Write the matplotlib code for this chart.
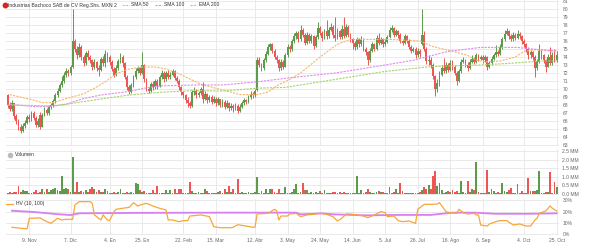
import numpy as np
import pandas as pd
import matplotlib
matplotlib.use('Agg')
import matplotlib.pyplot as plt
from matplotlib.lines import Line2D

plt.rcParams['font.family'] = ['Liberation Sans', 'DejaVu Sans']

# trading days (BMV holidays removed)
holidays = ['2020-11-16', '2020-12-25', '2021-01-01', '2021-02-01',
            '2021-04-01', '2021-04-02', '2021-09-16']
days = pd.bdate_range('2020-10-26', '2021-10-25')
days = days[~days.isin(pd.to_datetime(holidays))]

# daily OHLC (MXN)
opens = [69.2, 68.0, 67.5, 68.2, 66.6, 66.0, 65.2, 64.8, 65.4, 65.8,
         66.5, 66.2, 67.0, 66.4, 65.5, 66.8, 65.3, 66.8, 67.4, 67.0,
         67.8, 68.0, 68.5, 69.2, 69.8, 70.5, 71.0, 71.8, 72.3, 72.0,
         72.8, 76.0, 75.0, 74.2, 75.3, 74.0, 73.2, 74.5, 74.0, 73.6,
         72.8, 73.4, 72.6, 72.4, 73.8, 73.2, 74.4, 74.0, 73.4, 72.5,
         71.8, 72.6, 73.5, 74.0, 73.2, 71.5, 70.2, 69.6, 70.5, 71.5,
         72.3, 72.6, 72.0, 73.0, 71.2, 70.0, 69.8, 70.6, 70.2, 71.0,
         70.4, 71.5, 72.0, 71.2, 72.0, 71.5, 71.8, 72.3, 71.4, 71.0,
         70.2, 69.6, 69.2, 68.6, 68.2, 67.9, 69.6, 69.8, 69.2, 69.5,
         70.0, 68.8, 69.4, 68.6, 69.0, 68.4, 68.8, 68.2, 68.7, 68.0,
         68.4, 67.8, 68.3, 67.6, 67.9, 67.6, 67.9, 67.2, 67.8, 68.3,
         68.6, 68.4, 69.0, 69.4, 69.2, 69.9, 73.6, 73.0, 72.6, 73.6,
         74.4, 75.2, 75.6, 74.8, 74.0, 73.6, 72.6, 73.4, 72.8, 74.2,
         75.2, 75.0, 76.0, 76.6, 77.0, 76.2, 77.4, 76.8, 75.8, 76.8,
         76.0, 76.6, 75.4, 76.5, 77.6, 77.0, 76.4, 77.2, 76.6, 77.4,
         77.8, 76.8, 76.4, 77.2, 76.5, 77.5, 76.6, 77.8, 76.8, 76.2,
         75.8, 75.2, 76.2, 75.6, 76.3, 75.0, 74.6, 73.6, 74.8, 75.6,
         75.0, 76.4, 75.8, 76.2, 75.6, 75.9, 76.5, 77.4, 77.6, 76.8,
         77.2, 76.8, 76.0, 75.8, 76.6, 76.0, 75.3, 74.8, 75.0, 74.2,
         74.8, 75.6, 76.8, 75.0, 73.5, 73.6, 73.0, 71.6, 70.0, 70.8,
         71.8, 72.6, 72.2, 73.0, 72.4, 73.2, 72.8, 72.0, 71.0, 72.2,
         73.4, 73.6, 73.0, 72.6, 73.4, 73.8, 73.4, 74.2, 73.8, 74.0,
         73.6, 74.0, 72.8, 73.2, 73.8, 74.2, 74.6, 74.4, 75.2, 76.2,
         76.9, 77.2, 76.6, 76.2, 76.8, 76.4, 76.9, 76.6, 76.0, 75.6,
         75.0, 74.2, 74.6, 74.0, 72.6, 73.4, 74.8, 74.2, 73.6, 72.8,
         74.0, 73.2, 74.2, 73.6]
closes = [68.0, 67.5, 68.2, 66.6, 66.0, 65.2, 64.8, 65.4, 65.8, 66.5,
          66.2, 67.0, 66.4, 65.5, 66.0, 65.3, 66.8, 67.4, 67.0, 67.8,
          68.0, 68.5, 69.2, 69.8, 70.5, 71.0, 71.8, 72.3, 72.0, 72.8,
          76.0, 75.0, 74.2, 75.3, 74.0, 73.2, 74.5, 74.0, 73.6, 72.8,
          73.4, 72.6, 72.4, 73.8, 73.2, 74.4, 74.0, 73.4, 72.5, 71.8,
          72.6, 73.5, 74.0, 73.2, 71.5, 70.2, 69.6, 70.5, 71.5, 72.3,
          72.6, 72.0, 73.0, 71.2, 70.0, 69.8, 70.6, 70.2, 71.0, 70.4,
          71.5, 72.0, 71.2, 72.0, 71.5, 71.8, 72.3, 71.4, 71.0, 70.2,
          69.6, 69.2, 68.6, 68.2, 67.9, 69.6, 69.8, 69.2, 69.5, 70.0,
          68.8, 69.4, 68.6, 69.0, 68.4, 68.8, 68.2, 68.7, 68.0, 68.4,
          67.8, 68.3, 67.6, 67.9, 67.6, 67.9, 67.2, 67.8, 68.3, 68.6,
          68.4, 69.0, 69.4, 69.2, 69.8, 73.6, 73.0, 72.6, 73.6, 74.4,
          75.2, 75.6, 74.8, 74.0, 73.6, 72.6, 73.4, 72.8, 74.2, 75.2,
          75.0, 76.0, 76.6, 77.0, 76.2, 77.4, 76.8, 75.8, 76.8, 76.0,
          76.6, 75.4, 76.5, 77.6, 77.0, 76.4, 77.2, 76.6, 77.4, 77.8,
          76.8, 76.4, 77.2, 76.5, 77.5, 76.6, 77.8, 76.8, 76.2, 75.8,
          75.2, 76.2, 75.6, 76.3, 75.0, 74.6, 73.6, 74.8, 75.6, 75.0,
          76.4, 75.8, 76.2, 75.6, 75.9, 76.5, 77.4, 77.6, 76.8, 77.2,
          76.8, 76.0, 75.8, 76.6, 76.0, 75.3, 74.8, 75.0, 74.2, 74.8,
          74.4, 76.8, 75.0, 73.5, 73.6, 73.0, 71.6, 70.0, 70.8, 71.8,
          72.6, 72.2, 73.0, 72.4, 73.2, 72.8, 72.0, 71.0, 72.2, 73.4,
          73.6, 73.0, 72.6, 73.4, 73.8, 73.4, 74.2, 73.8, 74.0, 73.6,
          74.0, 72.8, 73.2, 73.8, 74.2, 74.6, 74.4, 75.2, 76.2, 76.9,
          77.2, 76.6, 76.2, 76.8, 76.4, 76.9, 76.6, 76.0, 75.6, 75.0,
          74.2, 74.6, 74.0, 72.6, 73.4, 74.8, 74.2, 73.6, 72.8, 74.0,
          73.2, 74.2, 73.6, 74.2]
highs = [69.4, 68.4, 68.6, 68.3, 66.9, 66.2, 65.6, 65.7, 66.1, 66.8,
         66.9, 67.2, 67.2, 66.6, 66.4, 67.1, 67.0, 67.7, 67.6, 68.0,
         68.3, 68.8, 69.5, 70.1, 70.8, 71.6, 72.1, 72.6, 72.5, 73.0,
         80.0, 76.2, 75.4, 75.7, 75.5, 74.3, 74.8, 74.9, 74.2, 73.8,
         73.7, 73.5, 73.0, 74.0, 74.1, 74.9, 74.6, 74.3, 73.6, 72.8,
         73.0, 73.8, 74.5, 74.2, 73.4, 71.8, 70.5, 70.8, 71.8, 72.6,
         72.9, 72.8, 74.6, 73.1, 71.4, 70.3, 70.9, 71.0, 71.3, 71.2,
         71.8, 72.4, 72.2, 72.3, 72.4, 72.1, 72.5, 72.4, 71.6, 71.2,
         70.4, 69.8, 69.4, 69.0, 68.5, 69.9, 70.2, 70.0, 69.8, 70.3,
         70.9, 69.7, 69.5, 69.3, 69.2, 69.1, 69.0, 69.0, 68.8, 68.7,
         68.6, 68.6, 68.4, 68.2, 68.1, 68.2, 68.1, 68.1, 68.5, 68.9,
         68.8, 69.3, 69.7, 69.6, 70.0, 74.0, 74.0, 73.3, 73.9, 74.8,
         75.6, 75.8, 75.8, 75.0, 74.3, 73.8, 73.7, 73.6, 74.5, 75.6,
         75.5, 76.3, 77.0, 77.3, 77.2, 78.0, 77.6, 77.0, 77.1, 77.0,
         76.9, 76.8, 76.8, 78.4, 77.9, 77.2, 77.5, 78.6, 77.8, 78.2,
         78.0, 79.0, 77.6, 77.4, 78.0, 79.0, 78.1, 78.0, 77.0, 76.4,
         76.0, 76.5, 76.4, 76.6, 76.4, 75.2, 74.8, 75.1, 75.9, 75.8,
         76.7, 77.0, 76.5, 76.4, 76.2, 76.8, 77.7, 78.0, 77.8, 77.5,
         77.4, 77.0, 76.3, 76.9, 76.8, 76.2, 75.5, 75.3, 75.2, 75.1,
         75.0, 80.0, 77.3, 75.3, 74.2, 74.0, 73.2, 71.8, 71.2, 72.2,
         73.0, 73.9, 73.4, 73.3, 73.6, 73.6, 73.0, 72.2, 72.5, 73.8,
         74.0, 73.8, 73.4, 73.7, 74.2, 74.0, 74.5, 74.4, 74.3, 74.2,
         74.3, 74.1, 73.5, 74.1, 74.5, 75.5, 74.9, 75.6, 76.5, 77.4,
         77.6, 77.4, 76.9, 77.1, 77.0, 77.4, 77.1, 76.8, 76.2, 75.8,
         75.2, 75.0, 74.8, 74.2, 73.8, 75.6, 75.0, 74.4, 73.8, 74.4,
         75.2, 74.6, 75.0, 74.8]
lows = [67.6, 67.2, 67.3, 66.3, 65.6, 64.9, 64.5, 64.6, 65.1, 65.6,
        65.9, 66.0, 66.1, 65.2, 65.3, 65.0, 65.2, 66.6, 66.7, 66.8,
        67.5, 67.8, 68.3, 69.0, 69.6, 70.2, 70.8, 71.5, 71.6, 71.8,
        72.6, 74.6, 73.8, 74.0, 73.6, 72.9, 73.0, 73.6, 73.2, 72.4,
        72.5, 72.2, 71.6, 72.2, 72.9, 72.8, 73.4, 73.0, 72.2, 71.5,
        71.6, 72.4, 73.2, 72.8, 71.2, 69.9, 69.4, 69.5, 70.3, 71.3,
        72.0, 71.7, 71.9, 70.9, 69.7, 69.5, 69.6, 69.9, 70.0, 70.0,
        70.3, 71.3, 70.9, 71.0, 71.2, 71.2, 71.6, 71.1, 70.7, 69.9,
        69.3, 68.9, 68.3, 67.8, 67.6, 67.8, 69.3, 68.9, 69.0, 69.3,
        68.2, 68.6, 68.3, 68.4, 68.1, 68.2, 67.9, 68.0, 67.7, 67.8,
        67.5, 67.6, 67.3, 67.4, 67.1, 67.4, 67.0, 67.1, 67.6, 68.0,
        68.1, 68.3, 68.8, 68.9, 69.0, 69.8, 72.7, 72.3, 72.4, 73.4,
        74.2, 74.9, 74.5, 73.7, 73.3, 72.3, 72.4, 72.5, 72.7, 74.0,
        74.6, 74.8, 75.8, 76.3, 75.9, 76.0, 76.5, 75.5, 75.6, 75.7,
        75.8, 75.0, 75.3, 76.3, 76.7, 76.0, 76.2, 76.3, 76.4, 77.2,
        76.4, 76.0, 76.2, 76.2, 76.3, 76.4, 76.5, 76.5, 75.9, 75.0,
        74.9, 75.0, 75.3, 75.4, 74.8, 74.3, 73.0, 73.4, 74.6, 74.7,
        74.9, 75.5, 75.6, 75.3, 75.4, 75.7, 76.4, 77.1, 76.5, 76.6,
        76.4, 75.7, 75.5, 75.6, 75.7, 75.0, 74.5, 74.6, 73.9, 74.0,
        74.0, 75.5, 74.8, 73.1, 73.0, 72.6, 71.2, 69.1, 69.6, 70.4,
        71.6, 72.0, 72.0, 72.1, 72.2, 72.4, 71.7, 70.5, 70.9, 72.0,
        73.2, 72.7, 72.3, 72.5, 73.2, 73.1, 73.2, 73.5, 73.6, 73.3,
        73.4, 72.4, 72.6, 73.0, 73.6, 74.0, 74.1, 74.3, 75.0, 76.0,
        76.7, 76.3, 76.0, 76.0, 76.1, 76.2, 76.3, 75.6, 75.2, 74.6,
        73.8, 73.9, 73.6, 71.5, 72.4, 73.2, 73.8, 73.2, 72.1, 72.7,
        73.0, 73.0, 73.4, 73.4]

# volume (millions of shares)
volume = [0.05, 0.08, 0.06, 0.10, 0.08, 0.45, 0.12, 0.20, 0.15, 0.15,
          0.06, 0.05, 0.08, 0.20, 0.06, 0.10, 0.25, 0.10, 0.30, 0.12,
          0.20, 0.30, 0.35, 0.20, 0.15, 1.05, 0.30, 0.35, 0.30, 0.10,
          2.15, 0.12, 0.70, 0.10, 0.15, 0.10, 0.20, 0.12, 0.25, 0.40,
          0.30, 0.10, 0.20, 0.08, 0.10, 0.30, 0.15, 0.05, 0.06, 0.10,
          0.05, 0.08, 0.30, 0.05, 0.06, 0.10, 0.05, 0.08, 0.06, 0.65,
          0.55, 0.20, 0.08, 0.15, 0.05, 0.06, 0.04, 0.20, 0.06, 0.45,
          0.05, 0.06, 0.04, 0.20, 0.05, 0.20, 0.06, 0.30, 0.05, 0.30,
          0.25, 0.05, 0.06, 0.04, 0.70, 0.15, 0.05, 0.06, 0.10, 0.04,
          0.05, 0.25, 0.15, 0.05, 0.06, 0.04, 0.05, 0.10, 0.15, 0.05,
          0.30, 0.08, 0.45, 0.08, 0.30, 0.06, 0.85, 0.05, 0.10, 0.04,
          0.05, 0.10, 0.04, 0.05, 0.10, 1.00, 0.06, 0.15, 0.05, 0.25,
          0.06, 0.25, 0.25, 0.08, 0.05, 0.30, 0.06, 0.05, 0.40, 0.06,
          0.05, 0.08, 0.30, 0.55, 0.06, 0.10, 0.60, 0.20, 0.20, 0.05,
          0.08, 0.06, 0.10, 0.05, 0.15, 0.04, 0.20, 0.05, 0.05, 0.03,
          0.08, 0.10, 0.06, 0.08, 0.05, 0.10, 0.04, 0.03, 0.05, 0.03,
          0.06, 1.05, 0.05, 0.20, 0.06, 0.10, 0.30, 0.10, 0.04, 0.05,
          0.10, 0.15, 0.12, 0.10, 0.04, 0.05, 0.40, 0.06, 0.10, 0.25,
          0.05, 0.60, 0.15, 0.04, 0.03, 0.05, 0.04, 0.05, 0.06, 0.05,
          0.10, 0.20, 0.40, 0.30, 0.50, 0.30, 1.05, 1.30, 0.45, 0.60,
          0.20, 0.05, 0.10, 0.15, 0.10, 0.20, 0.12, 0.15, 0.06, 0.75,
          0.10, 0.05, 0.75, 0.08, 0.30, 0.20, 1.85, 0.10, 0.05, 0.04,
          0.06, 1.40, 0.08, 0.25, 0.15, 0.05, 0.10, 0.05, 0.60, 0.15,
          0.10, 0.20, 0.35, 0.05, 0.06, 0.55, 0.04, 0.15, 0.05, 0.06,
          0.90, 0.15, 0.15, 0.15, 0.20, 1.30, 0.05, 0.06, 0.10, 0.08,
          1.25, 0.06, 0.70, 0.40]

# moving averages (day index, value)
sma50_idx = [1, 12, 16, 21, 27, 35, 40, 45, 50, 56, 62, 68, 73, 79, 86, 90,
             99, 107, 115, 120, 124, 130, 135, 144, 152, 158, 176, 190, 196,
             204, 212, 216, 221, 227, 234, 238, 243, 248, 253]
sma50_val = [69.3, 68.6, 68.3, 68.3, 68.8, 69.4, 70.1, 70.9, 71.9, 72.5,
             72.75, 72.75, 72.5, 71.9, 71.0, 70.5, 69.9, 69.3, 69.3, 69.6,
             70.4, 71.2, 72.0, 74.0, 75.6, 76.2, 76.2, 76.0, 75.3, 74.8,
             74.2, 73.6, 73.4, 73.5, 74.0, 74.7, 74.9, 74.8, 74.7]
sma100_idx = [1, 12, 20, 27, 35, 43, 56, 63, 71, 86, 99, 115, 130, 151,
              174, 187, 203, 218, 235, 238, 246, 253]
sma100_val = [68.1, 67.8, 67.8, 68.1, 68.8, 69.25, 69.7, 70.1, 70.4, 70.5,
              70.5, 70.9, 71.4, 72.0, 73.0, 73.6, 74.7, 75.2, 75.2, 75.1,
              74.9, 74.75]
ema200_idx = [0, 20, 27, 43, 56, 71, 86, 99, 115, 128, 151, 174, 195, 218,
              231, 246, 253]
ema200_val = [68.0, 67.9, 68.1, 68.75, 69.25, 69.6, 69.8, 69.75, 70.1, 70.2,
              71.2, 72.2, 72.8, 73.0, 73.2, 73.5, 73.5]

# historical volatility (%), HV 10 and HV 100
hv10_idx = [2, 8, 9, 10, 15, 16, 17, 20, 21, 23, 25, 27, 30, 31, 33, 38,
            39, 40, 41, 43, 44, 46, 47, 49, 50, 53, 56, 58, 60, 61, 64, 67,
            70, 73, 74, 76, 79, 81, 83, 84, 89, 93, 95, 98, 103, 104, 106,
            109, 113, 114, 115, 120, 123, 124, 125, 126, 129, 130, 133,
            135, 138, 141, 144, 147, 150, 152, 154, 156, 158, 161, 164, 166,
            169, 172, 174, 175, 178, 180, 182, 185, 187, 188, 189, 192, 195,
            198, 199, 202, 204, 207, 208, 210, 212, 215, 216, 217, 218, 221,
            222, 225, 227, 230, 233, 236, 239, 241, 243, 244, 245, 248, 250,
            251, 253]
hv10_val = [6.0, 4.7, 4.7, 14.0, 14.3, 13.1, 11.9, 9.5, 11.0, 14.0, 12.5,
            13.1, 13.1, 25.8, 28.8, 28.8, 27.3, 17.0, 15.5, 12.5, 17.0, 12.5,
            11.9, 19.9, 22.0, 22.9, 23.7, 27.9, 24.9, 25.8, 27.3, 24.9, 22.9,
            21.4, 12.5, 12.5, 11.0, 11.9, 11.9, 16.0, 17.0, 15.5, 6.5, 5.6,
            5.6, 6.0, 8.3, 7.4, 6.0, 6.0, 17.8, 18.4, 22.0, 20.8, 12.5, 16.0,
            16.0, 17.8, 18.4, 15.4, 17.0, 17.5, 18.4, 17.5, 15.4, 11.6, 14.0,
            17.8, 17.8, 17.0, 16.0, 14.5, 17.0, 19.9, 19.0, 15.4, 16.0, 11.9,
            11.0, 11.6, 10.1, 9.5, 22.0, 26.4, 26.4, 26.7, 28.0, 19.9, 19.0,
            18.4, 22.0, 19.0, 17.8, 18.4, 16.9, 16.9, 8.0, 7.1, 8.9, 11.0,
            11.9, 11.9, 8.0, 8.9, 7.1, 7.1, 12.5, 14.0, 18.4, 20.5, 25.0,
            23.0, 20.5]
hv100_idx = [2, 12, 24, 29, 33, 60, 100, 133, 135, 145, 150, 165, 180, 195,
             205, 215, 225, 240, 253]
hv100_val = [20.7, 19.6, 17.5, 16.9, 18.4, 18.8, 19.0, 19.0, 17.5, 18.4,
             17.5, 16.6, 17.0, 17.0, 19.0, 19.0, 18.0, 18.0, 18.4]

tick_dates = ['2020-11-09', '2020-12-07', '2021-01-04', '2021-01-25',
              '2021-02-22', '2021-03-15', '2021-04-12', '2021-05-03',
              '2021-05-24', '2021-06-14', '2021-07-05', '2021-07-26',
              '2021-08-16', '2021-09-06', '2021-10-04', '2021-10-25']
tick_labels = ['9. Nov', '7. Dic', '4. En', '25. En', '22. Feb', '15. Mar',
               '12. Abr', '3. May', '24. May', '14. Jun', '5. Jul', '26. Jul',
               '16. Ago', '6. Sep', '4. Oct', '25. Oct']

RED = '#ee5555'
GREEN = '#5c9b4a'
GRID = '#e6e6e6'
TXT = '#666666'
FS = 3.6

idx = np.arange(len(days))
o = np.array(opens)
c = np.array(closes)
cols = [GREEN if cc >= oo else RED for oo, cc in zip(o, c)]
tick_pos = [days.get_loc(pd.Timestamp(d)) for d in tick_dates]

W, H = 594, 248
fig = plt.figure(figsize=(W / 100, H / 100), dpi=100)
fig.patch.set_facecolor('white')

def px_axes(left, top, right, bottom):
    return fig.add_axes([left / W, 1 - bottom / H, (right - left) / W, (bottom - top) / H])

ax1 = px_axes(6, 0, 559, 146)
ax2 = px_axes(6, 149, 559, 195)
ax3 = px_axes(6, 199, 559, 235)

for ax in (ax1, ax2, ax3):
    ax.set_xlim(-0.74, 254.1)
    for s in ax.spines.values():
        s.set_visible(False)
    ax.yaxis.tick_right()
    ax.tick_params(length=0, labelsize=FS, labelcolor=TXT, pad=2.5)
    ax.set_xticks(tick_pos)
    ax.grid(True, color=GRID, lw=0.6)
    ax.set_axisbelow(True)
ax1.tick_params(axis='x', labelbottom=False)
ax2.tick_params(axis='x', labelbottom=False)
ax3.set_xticklabels(tick_labels)
ax3.tick_params(axis='x', pad=2.5)

# price candles
ax1.vlines(idx, lows, highs, colors=cols, lw=0.7)
body = np.maximum(np.abs(c - o), 0.1)
ax1.bar(idx, body, bottom=np.minimum(o, c), width=0.85, color=cols, lw=0)
ax1.plot(sma50_idx, sma50_val, color='#f7b76a', lw=0.8, ls=(0, (2, 1)))
ax1.plot(sma100_idx, sma100_val, color='#e08af0', lw=0.8, ls=(0, (2, 1)))
ax1.plot(ema200_idx, ema200_val, color='#a6d46e', lw=0.8, ls=(0, (2, 1)))
ax1.set_ylim(62.875, 81.125)
ax1.set_yticks(range(63, 82))

# volume
ax2.bar(idx, volume, width=0.85, color=cols, lw=0)
ax2.set_ylim(-0.076, 2.617)
vt = [0, 0.5, 1.0, 1.5, 2.0, 2.5]
ax2.set_yticks(vt)
ax2.set_yticklabels([f'{v:.1f} MM' for v in vt])

# HV
ax3.plot(hv100_idx, hv100_val, color='#d77ff0', lw=1.3)
ax3.plot(hv10_idx, hv10_val, color='#f7a63c', lw=0.9)
ax3.set_ylim(-0.89, 31.16)
ax3.set_yticks([0, 10, 20, 30])
ax3.set_yticklabels(['0%', '10%', '20%', '30%'])

# legends
def fx(x):
    return x / W

def fy(y):
    return 1 - y / H

fig.add_artist(Line2D([fx(4.7)], [fy(5)], marker='o', ms=3.2, color='#e02020', lw=0))
fig.text(fx(8), fy(5), 'Industrias Bachoco SAB de CV Reg.Shs. MXN 2', fontsize=FS,
         color='#333333', va='center')
for x0, col, lab in [(122, '#f7b76a', 'SMA 50'), (155, '#e08af0', 'SMA 100'),
                     (190, '#a6d46e', 'EMA 200')]:
    fig.add_artist(Line2D([fx(x0), fx(x0 + 7)], [fy(5), fy(5)], color=col, lw=0.8,
                          ls=(0, (2, 1))))
    fig.text(fx(x0 + 9), fy(5), lab, fontsize=FS, color='#333333', va='center')

fig.add_artist(Line2D([fx(10)], [fy(154.5)], marker='o', ms=3, color='#bbbbbb', lw=0))
fig.text(fx(15), fy(154.5), 'Volumen', fontsize=FS, color='#333333', va='center')
fig.add_artist(Line2D([fx(6), fx(13)], [fy(203.5), fy(203.5)], color='#f7a63c', lw=0.9))
fig.text(fx(16), fy(203.5), 'HV (10, 100)', fontsize=FS, color='#333333', va='center')

fig.savefig('out.png', dpi=100)
